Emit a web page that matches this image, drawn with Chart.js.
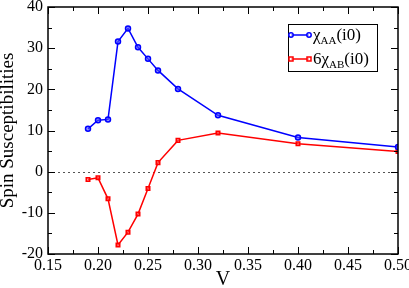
<!DOCTYPE html>
<html>
<head>
<meta charset="utf-8">
<script src="https://cdn.jsdelivr.net/npm/chart.js@4"></script>
<style>
  html, body { margin: 0; padding: 0; background: #fff; }
  #wrap { width: 409px; height: 288px; position: relative; }
</style>
</head>
<body>
<div id="wrap"><canvas id="chart"></canvas></div>
<script>
// Dane
const vValues = [0.19, 0.20, 0.21, 0.22, 0.23, 0.24, 0.25, 0.26, 0.28, 0.32, 0.40, 0.50];
const chiAA = [10.4, 12.5, 12.7, 31.6, 34.8, 30.2, 27.4, 24.6, 20.1, 13.7, 8.3, 6.0];
const chiAB6 = [-1.9, -1.5, -6.6, -17.8, -14.7, -10.3, -4.1, 2.2, 7.6, 9.4, 6.8, 4.9];
const xTicks = [0.15, 0.20, 0.25, 0.30, 0.35, 0.40, 0.45, 0.50];
const yTicks = [-20, -10, 0, 10, 20, 30, 40];

const SERIF = "'Liberation Serif', 'DejaVu Serif', serif";
const BLUE = 'rgb(0, 0, 255)';
const RED = 'rgb(255, 0, 0)';

function toPoints(xs, ys) {
    return xs.map((x, i) => ({ x, y: ys[i] }));
}

// Ticki do środka na wszystkich czterech bokach + linia zero
const framePlugin = {
    id: 'frame',
    beforeDatasetsDraw(chart) {
        const { ctx, chartArea: a, scales } = chart;
        const y0 = scales.y.getPixelForValue(0);
        ctx.save();
        ctx.strokeStyle = '#555';
        ctx.lineWidth = 1;
        ctx.setLineDash([2, 3]);
        ctx.beginPath();
        ctx.moveTo(a.left, Math.round(y0) + 0.5);
        ctx.lineTo(a.right, Math.round(y0) + 0.5);
        ctx.stroke();
        ctx.restore();
    },
    afterDraw(chart) {
        const { ctx, chartArea: a, scales } = chart;
        ctx.save();
        ctx.strokeStyle = '#000';
        ctx.lineWidth = 1;
        ctx.beginPath();
        // oś X: major co 0.05, minor co 0.025
        for (let i = 0; i <= 14; i++) {
            const v = 0.15 + i * 0.025;
            const px = Math.round(scales.x.getPixelForValue(v)) + 0.5;
            const len = i % 2 === 0 ? 7 : 4;
            ctx.moveTo(px, a.bottom); ctx.lineTo(px, a.bottom - len);
            ctx.moveTo(px, a.top); ctx.lineTo(px, a.top + len);
        }
        // oś Y: major co 10, minor co 5
        for (let i = 0; i <= 12; i++) {
            const v = -20 + i * 5;
            const py = Math.round(scales.y.getPixelForValue(v)) + 0.5;
            const len = i % 2 === 0 ? 7 : 4;
            ctx.moveTo(a.left, py); ctx.lineTo(a.left + len, py);
            ctx.moveTo(a.right, py); ctx.lineTo(a.right - len, py);
        }
        ctx.stroke();
        ctx.lineWidth = 1.5;
        ctx.strokeStyle = '#000';
        ctx.strokeRect(a.left, a.top, a.right - a.left, a.bottom - a.top);
        ctx.restore();
    }
};

// Legenda z indeksami dolnymi
const legendPlugin = {
    id: 'subLegend',
    afterDraw(chart) {
        const { ctx } = chart;
        const bx = 288, by = 24, bw = 89, bh = 47;
        ctx.save();
        ctx.fillStyle = '#fff';
        ctx.fillRect(bx, by, bw, bh);
        ctx.strokeStyle = '#000';
        ctx.lineWidth = 1;
        ctx.strokeRect(bx + 0.5, by + 0.5, bw, bh);

        const rows = [
            { color: BLUE, style: 'circle', pre: '', sub: 'AA', y: 35 },
            { color: RED, style: 'rect', pre: '6', sub: 'AB', y: 59 }
        ];
        rows.forEach(r => {
            ctx.strokeStyle = r.color;
            ctx.lineWidth = 1.5;
            ctx.beginPath();
            ctx.moveTo(291, r.y); ctx.lineTo(309, r.y);
            ctx.stroke();
            [291, 309].forEach(mx => {
                ctx.beginPath();
                if (r.style === 'circle') ctx.arc(mx, r.y, 2.2, 0, Math.PI * 2);
                else ctx.rect(mx - 2, r.y - 2, 4, 4);
                ctx.fillStyle = 'rgba(255,255,255,0.6)';
                ctx.fill();
                ctx.stroke();
            });
            ctx.fillStyle = '#000';
            ctx.textBaseline = 'alphabetic';
            let x = 313;
            const base = r.y + 5;
            ctx.font = '17px ' + SERIF;
            if (r.pre) { ctx.fillText(r.pre, x, base); x += ctx.measureText(r.pre).width; }
            ctx.fillText('χ', x, base); x += ctx.measureText('χ').width;
            ctx.font = '11px ' + SERIF;
            ctx.fillText(r.sub, x, base + 4); x += ctx.measureText(r.sub).width;
            ctx.font = '17px ' + SERIF;
            ctx.fillText('(i0)', x, base);
        });
        ctx.restore();
    }
};

new Chart(document.getElementById('chart'), {
    type: 'scatter',
    data: {
        datasets: [
            {
                label: 'χAA(i0)',
                data: toPoints(vValues, chiAA),
                showLine: true,
                borderColor: BLUE,
                backgroundColor: 'rgba(80, 80, 255, 0.6)',
                borderWidth: 1.5,
                pointStyle: 'circle',
                pointRadius: 2.5,
                pointBorderWidth: 1.5,
                tension: 0
            },
            {
                label: '6χAB(i0)',
                data: toPoints(vValues, chiAB6),
                showLine: true,
                borderColor: RED,
                backgroundColor: 'rgba(255, 80, 80, 0.6)',
                borderWidth: 1.5,
                pointStyle: 'rect',
                pointRadius: 2.5,
                pointBorderWidth: 1.5,
                tension: 0
            }
        ]
    },
    options: {
        responsive: true,
        maintainAspectRatio: false,
        animation: false,
        layout: { padding: { top: 7, right: 11, left: 0, bottom: 0 } },
        plugins: {
            legend: { display: false },
            tooltip: { enabled: false }
        },
        scales: {
            x: {
                type: 'linear',
                min: 0.15,
                max: 0.50,
                afterBuildTicks: s => { s.ticks = xTicks.map(v => ({ value: v })); },
                afterFit: s => { s.height = 34; s.paddingLeft = 0; s.paddingRight = 0; },
                grid: { display: false, drawTicks: false },
                border: { display: false },
                ticks: {
                    padding: 2,
                    color: '#000',
                    font: { family: SERIF, size: 16 },
                    maxRotation: 0,
                    callback: v => v.toFixed(2)
                },
                title: {
                    display: true,
                    text: 'V',
                    color: '#000',
                    font: { family: SERIF, size: 20 },
                    padding: { top: 0, bottom: -4 }
                }
            },
            y: {
                type: 'linear',
                min: -20,
                max: 40,
                afterBuildTicks: s => { s.ticks = yTicks.map(v => ({ value: v })); },
                afterFit: s => { s.width = 48; s.paddingTop = 0; s.paddingBottom = 0; },
                grid: { display: false, drawTicks: false },
                border: { display: false },
                ticks: {
                    padding: 5,
                    color: '#000',
                    font: { family: SERIF, size: 16 }
                },
                title: {
                    display: true,
                    text: 'Spin Susceptibilities',
                    color: '#000',
                    font: { family: SERIF, size: 19 },
                    padding: { top: -3, bottom: 0 }
                }
            }
        }
    },
    plugins: [framePlugin, legendPlugin]
});
</script>
</body>
</html>
